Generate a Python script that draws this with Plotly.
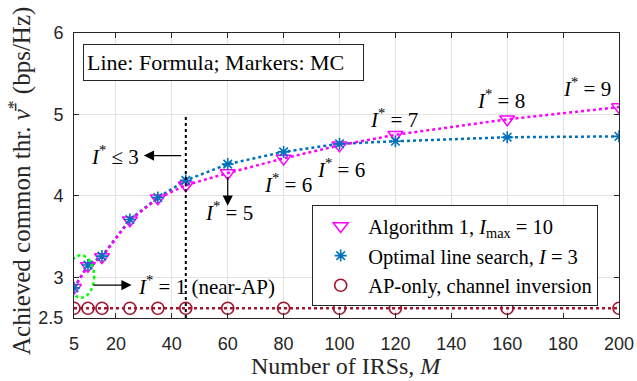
import plotly.graph_objects as go

# ---- data ----
M = [5, 10, 15, 25, 35, 45, 60, 80, 100, 120, 160, 200]
alg1 = [2.87, 3.14, 3.25, 3.70, 3.97, 4.13, 4.28, 4.46, 4.62, 4.75, 4.94, 5.09]
ols = [2.87, 3.15, 3.26, 3.71, 3.98, 4.19, 4.39, 4.54, 4.64, 4.67, 4.72, 4.73]
ap_only = [2.62, 2.62, 2.62, 2.62, 2.62, 2.62, 2.62, 2.62, 2.62, 2.62, 2.62, 2.62]
xticks = [5, 20, 40, 60, 80, 100, 120, 140, 160, 180, 200]
yticks = [2.5, 3, 4, 5, 6]

MAG = "#FF00FF"
BLUE = "#0072BD"
RED = "#A2142F"
SERIF = "Liberation Serif"
SANS = "Liberation Sans"
AX = "#262626"

fig = go.Figure()

# formula lines (no legend)
for y, c in [(ap_only, RED), (ols, BLUE), (alg1, MAG)]:
    fig.add_trace(go.Scatter(x=M, y=y, mode="lines", showlegend=False,
                             line=dict(color=c, width=2.5, dash="dot"), hoverinfo="skip"))

# MC markers
fig.add_trace(go.Scatter(x=M, y=alg1, mode="markers",
                         name="Algorithm 1, <i>I</i><sub>max</sub> = 10",
                         marker=dict(symbol="triangle-down-open", size=13, color=MAG,
                                     line=dict(width=1.5, color=MAG))))
fig.add_trace(go.Scatter(x=M, y=ols, mode="markers",
                         name="Optimal line search, <i>I</i> = 3",
                         marker=dict(symbol="asterisk-open", size=10, color=BLUE,
                                     line=dict(width=1.6, color=BLUE))))
fig.add_trace(go.Scatter(x=M, y=ap_only, mode="markers",
                         name="AP-only, channel inversion",
                         marker=dict(symbol="circle-open", size=12, color=RED,
                                     line=dict(width=1.6, color=RED))))

# vertical dotted line at M=45
fig.add_shape(type="line", x0=45, x1=45, y0=2.5, y1=5, xref="x", yref="y",
              line=dict(color="black", width=2, dash="dot"))
# green dotted ellipse
fig.add_shape(type="circle", x0=2.75, x1=12.2, y0=2.75, y1=3.27, xref="x", yref="y",
              line=dict(color="#00FF00", width=2.5, dash="dot"))

def lab(x, y, t):
    fig.add_annotation(x=x, y=y, text=t, showarrow=False, xref="x", yref="y",
                       font=dict(family=SERIF, size=21, color="black"))

def arrow(x, y, ax, ay):
    fig.add_annotation(x=x, y=y, ax=ax, ay=ay, xref="x", yref="y", axref="x", ayref="y",
                       text="", showarrow=True, arrowhead=2, arrowsize=1.7,
                       arrowwidth=1.2, arrowcolor="black")

istar = "<i>I</i><sup>*</sup>"
lab(19.6, 4.495, istar + " ≤ 3")
arrow(30.0, 4.495, 43.9, 4.495)
lab(81.4, 4.15, istar + " = 6")
arrow(60, 3.88, 60, 4.25)
lab(60.5, 3.81, istar + " = 5")
lab(100.7, 4.336, istar + " = 6")
lab(119.6, 4.948, istar + " = 7")
lab(157.7, 5.18, istar + " = 8")
lab(188.7, 5.327, istar + " = 9")
arrow(25.6, 2.904, 11.4, 2.904)
lab(52.3, 2.904, istar + " = 1 (near-AP)")

# text box
fig.add_annotation(x=0.0165, y=0.961, xref="paper", yref="paper", xanchor="left", yanchor="top",
                   text="Line: Formula; Markers: MC", showarrow=False,
                   font=dict(family=SERIF, size=22, color="black"),
                   width=273, height=29, align="left", valign="middle",
                   bordercolor=AX, borderwidth=1, borderpad=3, bgcolor="white")

# axis titles
fig.add_annotation(x=0.5, y=-0.168, xref="paper", yref="paper", xanchor="center", yanchor="middle",
                   text="Number of IRSs, <i>M</i>", showarrow=False,
                   font=dict(family=SERIF, size=24, color=AX))
fig.add_annotation(x=-0.099, y=0.481, xref="paper", yref="paper", xanchor="center", yanchor="middle",
                   textangle=-90,
                   text="Achieved common thr. <i>ν̄</i><sup>*</sup> (bps/Hz)", showarrow=False,
                   font=dict(family=SERIF, size=25, color=AX))

axis_common = dict(showline=True, linecolor=AX, linewidth=1, mirror="allticks",
                   ticks="inside", ticklen=5, tickcolor=AX, showgrid=True,
                   gridcolor="#E3E3E3", gridwidth=1, zeroline=False,
                   tickfont=dict(family=SANS, size=18, color=AX))

fig.update_xaxes(range=[5, 200], tickvals=xticks, ticktext=[str(v) for v in xticks],
                 ticklabelstandoff=9, **axis_common)
fig.update_yaxes(range=[2.5, 6], tickvals=yticks, ticktext=["2.5", "3", "4", "5", "6"],
                 ticklabelstandoff=6, **axis_common)

fig.update_layout(
    width=637, height=381,
    margin=dict(l=74, r=18, t=33, b=63, autoexpand=False),
    plot_bgcolor="white", paper_bgcolor="white",
    legend=dict(x=0.437, y=0.396, xanchor="left", yanchor="top",
                bgcolor="white", bordercolor=AX, borderwidth=1,
                font=dict(family=SERIF, size=20.5, color="black"),
                itemwidth=45, tracegroupgap=0),
    showlegend=True,
)

fig.write_html("out.html", config={"displayModeBar": False},
               post_script="document.body.style.margin='0';document.body.style.overflow='hidden';")
